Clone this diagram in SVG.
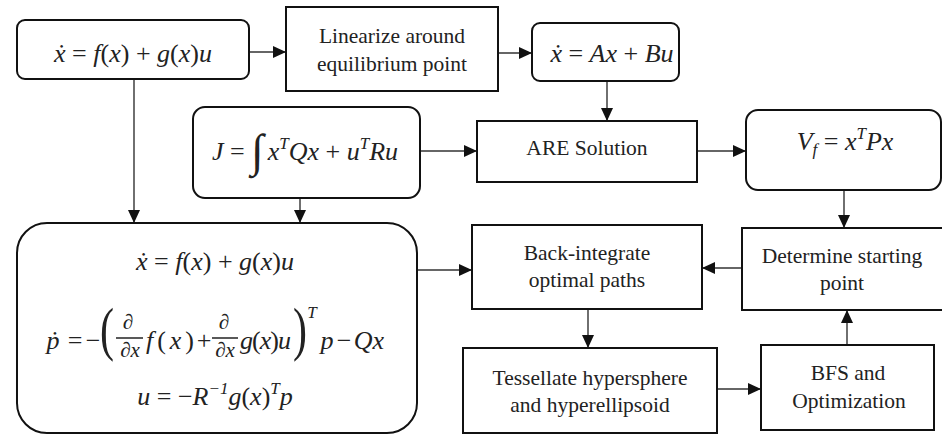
<svg xmlns="http://www.w3.org/2000/svg" width="942" height="434" viewBox="0 0 942 434">
<style>
.box{fill:#fff;stroke:#111;stroke-width:2}
.lbl{font-size:21.5px;fill:#222;text-anchor:middle}
.m{font-style:italic;font-size:26px;fill:#222}
.c{text-anchor:middle}
.op{font-style:normal}
.sup{font-size:17px}
.int{font-size:46px;font-style:normal}
.fr{font-size:21px}
.par{font-size:60px;fill:#222;text-anchor:middle}
.bar{stroke:#222;stroke-width:1.5}
.con{stroke:#333;stroke-width:1.4;fill:none;marker-end:url(#ah)}
</style>
<defs>
<marker id="ah" markerUnits="userSpaceOnUse" markerWidth="13" markerHeight="12" refX="13" refY="6" orient="auto">
<path d="M0,0 L13,6 L0,12 z" fill="#111"/>
</marker>
</defs>
<g id="connectors">
<line class="con" x1="249" y1="52" x2="286" y2="52"/>
<line class="con" x1="498" y1="53" x2="532" y2="53"/>
<line class="con" x1="607" y1="81" x2="607" y2="121"/>
<line class="con" x1="420" y1="151" x2="477" y2="151"/>
<line class="con" x1="697" y1="151" x2="746" y2="151"/>
<line class="con" x1="844" y1="190" x2="844" y2="228"/>
<line class="con" x1="134" y1="79" x2="134" y2="223"/>
<line class="con" x1="300" y1="198" x2="300" y2="223"/>
<line class="con" x1="417" y1="270" x2="472" y2="270"/>
<line class="con" x1="742" y1="268" x2="702" y2="268"/>
<line class="con" x1="588" y1="309" x2="588" y2="348"/>
<line class="con" x1="717" y1="389" x2="761" y2="389"/>
<line class="con" x1="847" y1="345" x2="847" y2="310"/>
</g>
<g font-family="Liberation Serif, Tinos, Times New Roman, Times, DejaVu Serif, serif">
<g id="dyn">
<rect class="box" x="17" y="20" width="232" height="59" rx="8"/>
<text class="m c" x="133" y="62">ẋ<tspan class="op"> = </tspan>f<tspan class="op">(</tspan>x<tspan class="op">) + </tspan>g<tspan class="op">(</tspan>x<tspan class="op">)</tspan>u</text>
</g>
<g id="linearize">
<rect class="box" x="286" y="7" width="212" height="84"/>
<text class="lbl" x="392" y="43">Linearize around</text>
<text class="lbl" x="392" y="71">equilibrium point</text>
</g>
<g id="linear">
<rect class="box" x="532" y="23" width="147" height="58" rx="8"/>
<text class="m c" x="612" y="62">ẋ<tspan class="op"> = </tspan>Ax<tspan class="op"> + </tspan>Bu</text>
</g>
<g id="cost">
<rect class="box" x="193" y="107" width="227" height="91" rx="12"/>
<text class="m c" x="305" y="160">J<tspan class="op"> = </tspan><tspan class="int" dy="6">∫</tspan><tspan dy="-6" dx="4">x</tspan><tspan class="sup" dy="-11">T</tspan><tspan dy="11">Qx</tspan><tspan class="op"> + </tspan>u<tspan class="sup" dy="-11">T</tspan><tspan dy="11">Ru</tspan></text>
</g>
<g id="are">
<rect class="box" x="477" y="121" width="220" height="61"/>
<text class="lbl" x="587" y="155">ARE Solution</text>
</g>
<g id="vf">
<rect class="box" x="746" y="110" width="195" height="80" rx="12"/>
<text class="m c" x="845" y="150">V<tspan class="sup" dy="5">f</tspan><tspan class="op" dy="-5"> = </tspan>x<tspan class="sup" dy="-11">T</tspan><tspan dy="11">Px</tspan></text>
</g>
<g id="pmp">
<rect class="box" x="17" y="223" width="400" height="210" rx="30"/>
<text class="m c" x="215" y="270">ẋ<tspan class="op"> = </tspan>f<tspan class="op">(</tspan>x<tspan class="op">) + </tspan>g<tspan class="op">(</tspan>x<tspan class="op">)</tspan>u</text>
<text class="m c" x="53" y="349">ṗ</text>
<text class="m c op" x="75" y="349">=</text>
<text class="m c op" x="93" y="349">−</text>
<text class="par" transform="translate(107,349) scale(0.7,1)">(</text>
<text class="m c fr" x="128" y="329">∂</text>
<line class="bar" x1="116" y1="338" x2="143" y2="338"/>
<text class="m c fr" x="130" y="357">∂x</text>
<text class="m" x="146" y="349" textLength="48" lengthAdjust="spacing">f<tspan class="op">(</tspan>x<tspan class="op">)</tspan></text>
<text class="m c op" x="204" y="349">+</text>
<text class="m c fr" x="224" y="329">∂</text>
<line class="bar" x1="212" y1="338" x2="238" y2="338"/>
<text class="m c fr" x="225" y="357">∂x</text>
<text class="m" x="240" y="349" textLength="51" lengthAdjust="spacing">g<tspan class="op">(</tspan>x<tspan class="op">)</tspan>u</text>
<text class="par" transform="translate(300,349) scale(0.7,1)">)</text>
<text class="m c sup" x="312" y="318">T</text>
<text class="m c" x="327" y="349">p</text>
<text class="m c op" x="344" y="349">−</text>
<text class="m c" x="369" y="349">Qx</text>
<text class="m c" x="215" y="405">u<tspan class="op"> = −</tspan>R<tspan class="sup" dy="-11">−1</tspan><tspan dy="11">g</tspan><tspan class="op">(</tspan>x<tspan class="op">)</tspan><tspan class="sup" dy="-11">T</tspan><tspan dy="11">p</tspan></text>
</g>
<g id="backint">
<rect class="box" x="472" y="225" width="230" height="84"/>
<text class="lbl" x="587" y="260">Back-integrate</text>
<text class="lbl" x="587" y="287">optimal paths</text>
</g>
<g id="determine">
<rect class="box" x="742" y="228" width="215" height="82"/>
<text class="lbl" x="842" y="263">Determine starting</text>
<text class="lbl" x="842" y="290">point</text>
</g>
<g id="tessellate">
<rect class="box" x="463" y="348" width="254" height="85"/>
<text class="lbl" x="590" y="385">Tessellate hypersphere</text>
<text class="lbl" x="590" y="412">and hyperellipsoid</text>
</g>
<g id="bfs">
<rect class="box" x="761" y="345" width="173" height="85"/>
<text class="lbl" x="848" y="380">BFS and</text>
<text class="lbl" x="849" y="408">Optimization</text>
</g>
</g>
</svg>
